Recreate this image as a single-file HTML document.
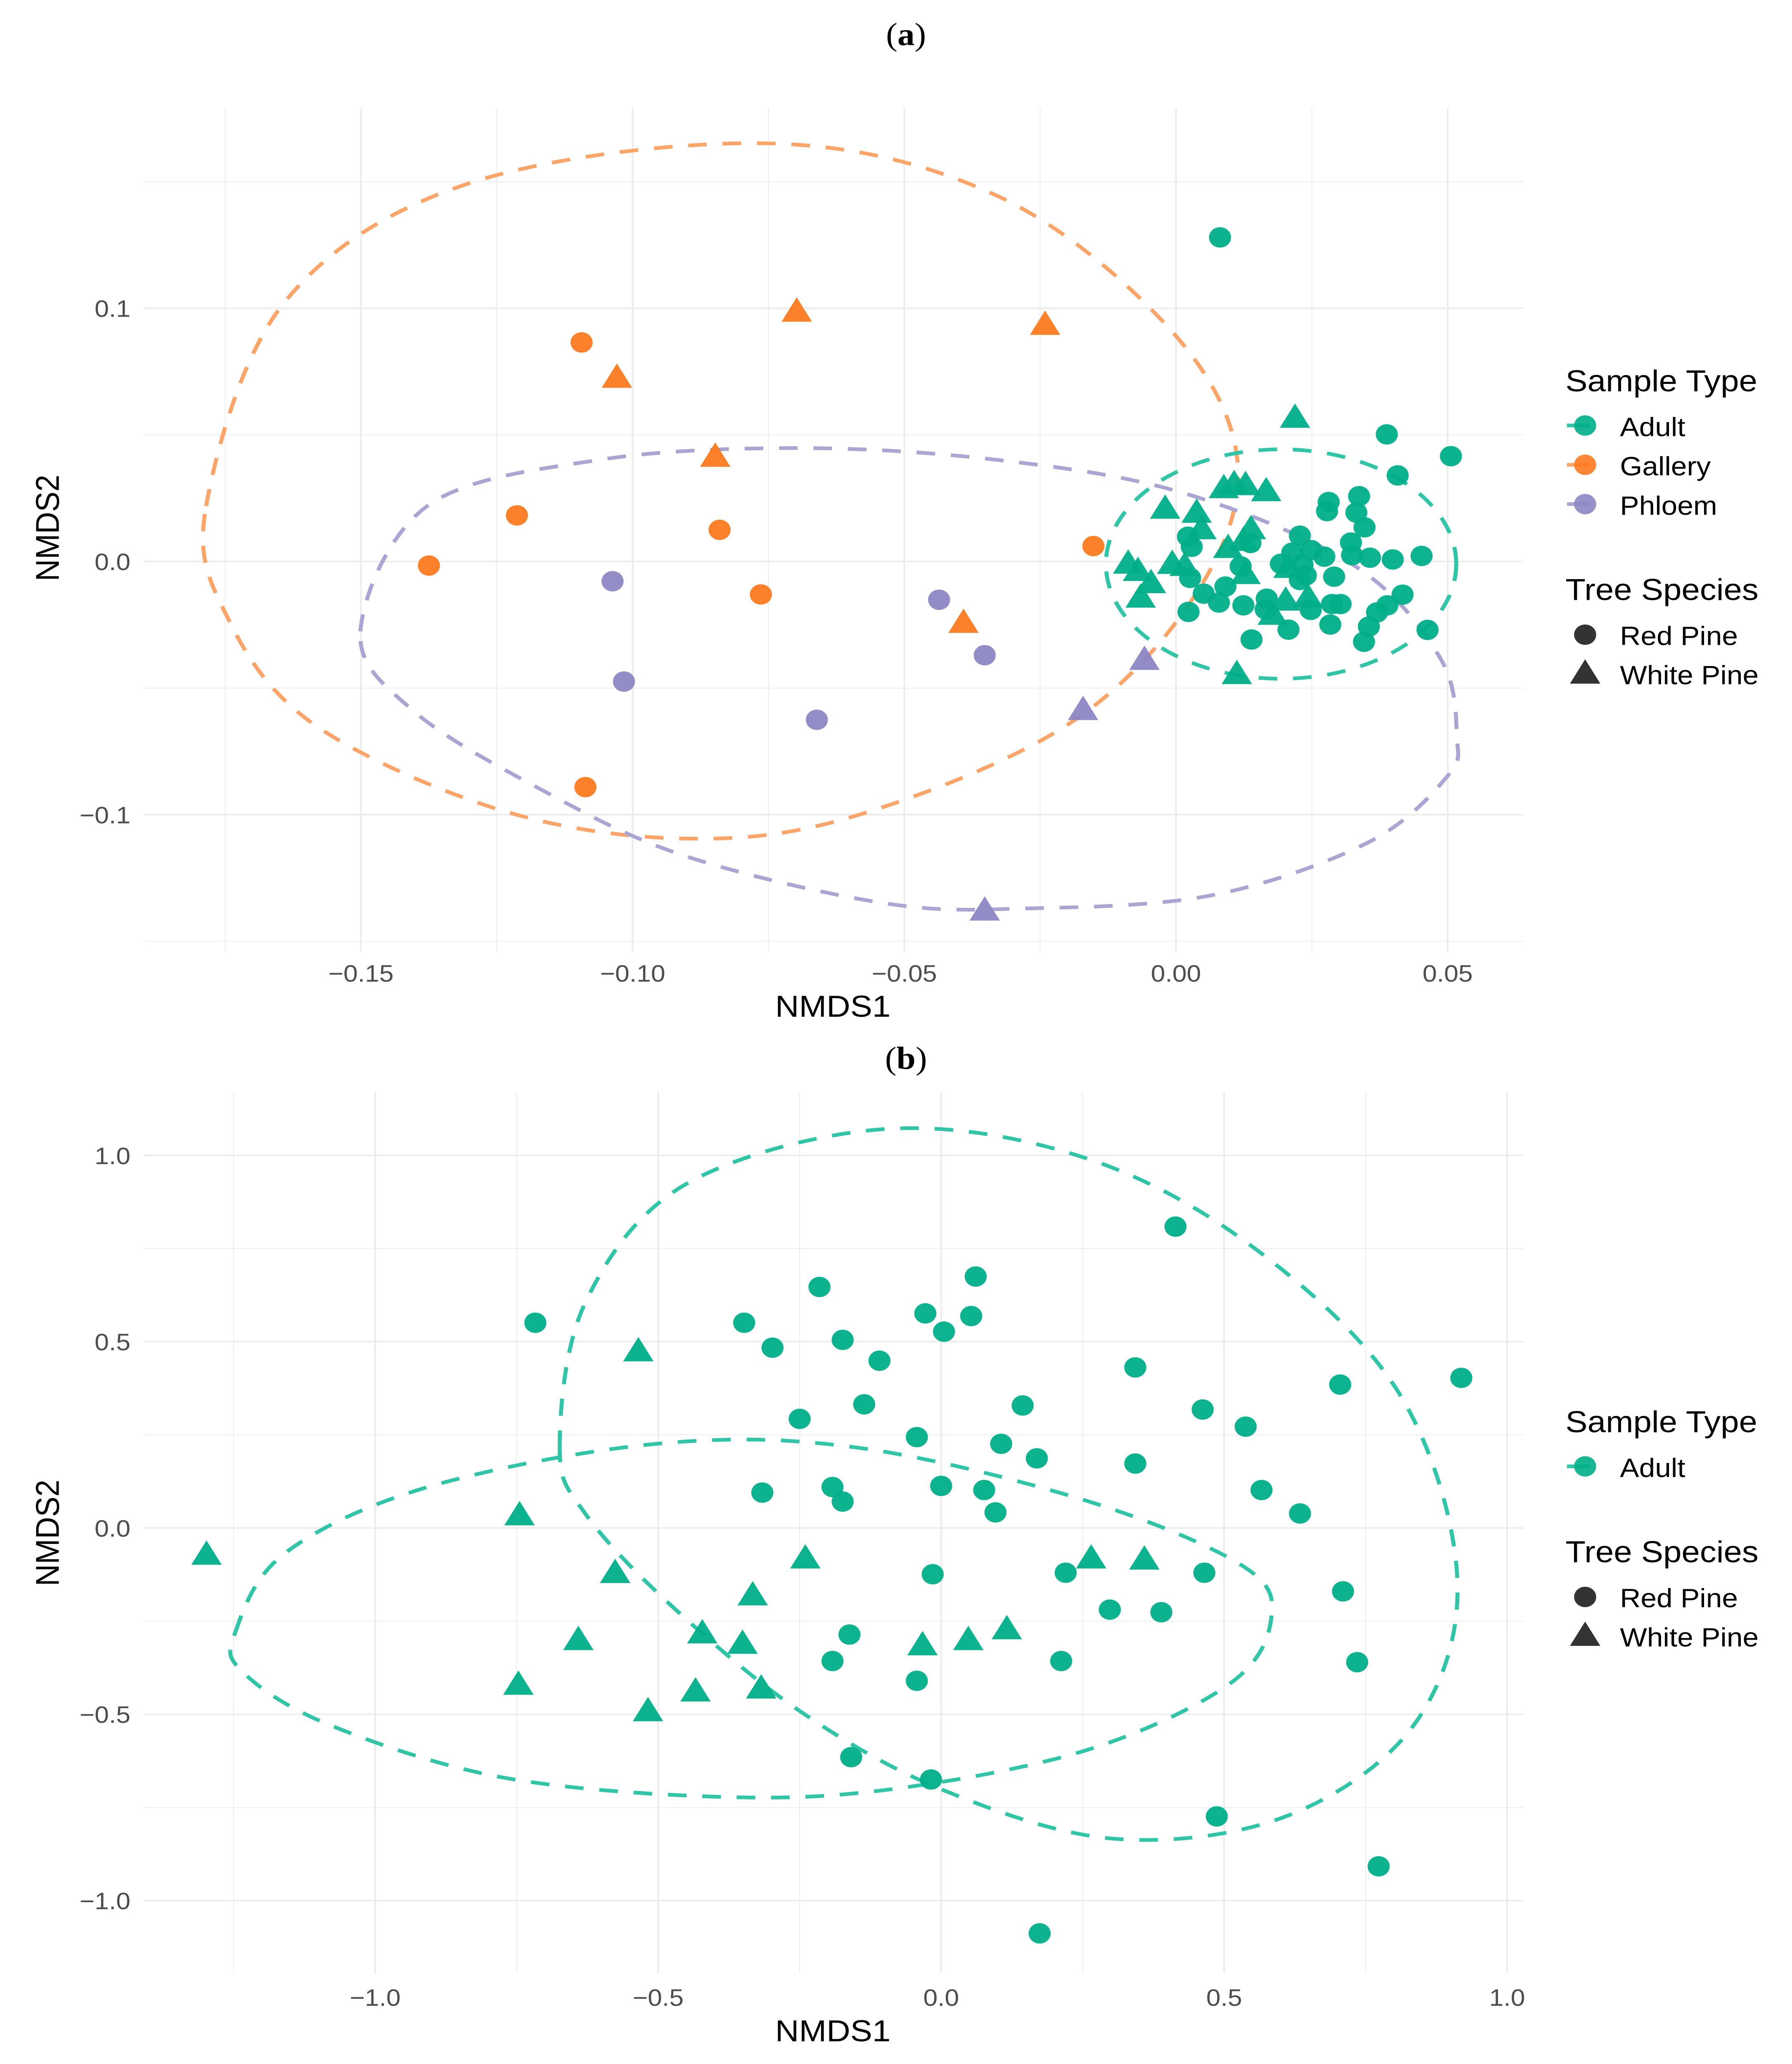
<!DOCTYPE html>
<html>
<head>
<meta charset="utf-8">
<style>
html,body{margin:0;padding:0;background:#fff;width:100%;height:100%;overflow:hidden;}
svg{display:block;position:absolute;left:0;top:0;width:100vw;height:100vh;}
text{font-family:"Liberation Sans",Arial,sans-serif;}
</style>
</head>
<body>
<svg id="fig" xmlns="http://www.w3.org/2000/svg" viewBox="0 0 1250 1560" preserveAspectRatio="none">
<rect width="1250" height="1560" fill="#fff"/>
<g id="panelA"></g>
<g id="panelB"></g>
<text x="632" y="34" text-anchor="middle" font-size="24" style="font-family:'Liberation Serif',serif">(<tspan font-weight="bold">a</tspan>)</text>
<text x="632" y="808" text-anchor="middle" font-size="24" style="font-family:'Liberation Serif',serif">(<tspan font-weight="bold">b</tspan>)</text>
</svg>
<script>
// ---------- Panel (a) data ----------
const aXTicks = [-0.15, -0.10, -0.05, 0.00, 0.05];
const aXTickLabels = ["\u22120.15", "\u22120.10", "\u22120.05", "0.00", "0.05"];
const aYTicks = [-0.1, 0.0, 0.1];
const aYTickLabels = ["\u22120.1", "0.0", "0.1"];
const aAdultCircles = [[0.0388,0.0502],[0.0506,0.0416],[0.0408,0.0340],[0.0281,0.0235],[0.0337,0.0258],[0.0278,0.0199],[0.0332,0.0193],[0.0347,0.0135],[0.0322,0.0075],[0.0324,0.0025],[0.0357,0.0015],[0.0399,0.0008],[0.0452,0.0022],[0.0228,0.0102],[0.0214,0.0035],[0.0249,0.0045],[0.0273,0.0019],[0.0193,-0.0009],[0.0233,-0.0013],[0.0239,-0.0055],[0.0228,-0.0073],[0.0291,-0.0060],[0.0022,0.0098],[0.0029,0.0058],[0.0137,0.0073],[0.0119,-0.0019],[0.0026,-0.0065],[0.0091,-0.0099],[0.0051,-0.0127],[0.0079,-0.0162],[0.0023,-0.0199],[0.0124,-0.0173],[0.0167,-0.0147],[0.0165,-0.0189],[0.0248,-0.0191],[0.0287,-0.0168],[0.0303,-0.0168],[0.0417,-0.0131],[0.0389,-0.0173],[0.0370,-0.0201],[0.0355,-0.0257],[0.0346,-0.0317],[0.0463,-0.0270],[0.0284,-0.0249],[0.0207,-0.0269],[0.0139,-0.0308],[0.0081,0.128]];
const aAdultTriangles = [[0.0219,0.0576],[0.0107,0.0314],[0.0088,0.0298],[0.0128,0.0310],[0.0166,0.0286],[-0.0020,0.0217],[0.0038,0.0201],[0.0047,0.0136],[0.0138,0.0136],[0.0124,0.0090],[0.0096,0.0062],[-0.0088,0.0000],[-0.0070,-0.0029],[-0.0007,-0.0001],[0.0016,-0.0009],[-0.0046,-0.0077],[-0.0065,-0.0134],[0.0128,-0.0041],[0.0207,-0.0017],[0.0202,-0.0146],[0.0243,-0.0134],[0.0178,-0.0202],[0.0112,-0.0436]];
const aGalleryCircles = [[-0.1094,0.0865],[-0.1213,0.0182],[-0.1375,-0.0016],[-0.0840,0.0125],[-0.0764,-0.0130],[-0.1087,-0.0891],[-0.0152,0.0061]];
const aGalleryTriangles = [[-0.1029,0.0734],[-0.0698,0.0995],[-0.0241,0.0943],[-0.0848,0.0422],[-0.0391,-0.0234]];
const aPhloemCircles = [[-0.1037,-0.0078],[-0.1016,-0.0474],[-0.0661,-0.0625],[-0.0436,-0.0151],[-0.0352,-0.0370]];
const aPhloemTriangles = [[-0.0171,-0.0578],[-0.0058,-0.0380],[-0.0352,-0.1370]];
const aGalleryEllipse = [[-0.1785,0.0219],[-0.1640,0.1026],[-0.1299,0.1495],[-0.0748,0.1651],[-0.0328,0.1443],[-0.0013,0.0922],[0.0113,0.0401],[0.0039,-0.0120],[-0.0197,-0.0641],[-0.0591,-0.1005],[-0.0906,-0.1094],[-0.1247,-0.0979],[-0.1588,-0.0641],[-0.1745,-0.0224]];
const aPhloemEllipse = [[-0.1501,-0.0276],[-0.1378,0.0219],[-0.1063,0.0401],[-0.0696,0.0448],[-0.0328,0.0401],[0.0013,0.0271],[0.0328,-0.0016],[0.0486,-0.0380],[0.0517,-0.0693],[0.0499,-0.0849],[0.0354,-0.1109],[0.0066,-0.1318],[-0.0276,-0.1370],[-0.0538,-0.1349],[-0.0906,-0.1161],[-0.1168,-0.0901],[-0.1404,-0.0589]];
const aAdultEllipseCenter = [0.01934, -0.0010];
const aAdultEllipseRadii = [0.03224, 0.0453];

// ---------- Panel (b) data ----------
const bXTicks = [-1.0, -0.5, 0.0, 0.5, 1.0];
const bXTickLabels = ["\u22121.0", "\u22120.5", "0.0", "0.5", "1.0"];
const bYTicks = [-1.0, -0.5, 0.0, 0.5, 1.0];
const bYTickLabels = ["\u22121.0", "\u22120.5", "0.0", "0.5", "1.0"];
const bAdultCircles = [[-0.717,0.551],[-0.215,0.647],[0.061,0.675],[-0.028,0.576],[0.053,0.569],[0.005,0.527],[-0.348,0.551],[-0.298,0.484],[-0.174,0.505],[-0.109,0.449],[0.414,0.809],[0.343,0.431],[0.705,0.385],[0.919,0.403],[0.144,0.329],[0.462,0.318],[0.538,0.272],[-0.136,0.332],[-0.250,0.293],[-0.043,0.244],[0.106,0.226],[0.169,0.187],[0.343,0.173],[-0.192,0.110],[-0.174,0.071],[-0.316,0.095],[0.000,0.113],[0.076,0.102],[0.096,0.042],[0.566,0.102],[0.634,0.039],[-0.015,-0.124],[0.220,-0.120],[0.465,-0.120],[0.298,-0.219],[0.389,-0.226],[0.710,-0.170],[-0.162,-0.286],[-0.192,-0.357],[0.212,-0.357],[0.735,-0.360],[-0.043,-0.410],[-0.159,-0.615],[-0.018,-0.675],[0.487,-0.774],[0.773,-0.908],[0.174,-1.088]];
const bAdultTriangles = [[-1.298,-0.066],[-0.745,0.040],[-0.535,0.480],[-0.576,-0.115],[-0.641,-0.295],[-0.747,-0.415],[-0.518,-0.486],[-0.434,-0.433],[-0.422,-0.277],[-0.351,-0.305],[-0.333,-0.175],[-0.318,-0.425],[-0.240,-0.076],[-0.033,-0.309],[0.048,-0.295],[0.116,-0.266],[0.265,-0.076],[0.359,-0.079]];
const bRedPineEllipse = [[-0.674,0.216],[-0.629,0.604],[-0.452,0.922],[-0.098,1.071],[0.255,0.993],[0.558,0.746],[0.811,0.357],[0.912,-0.138],[0.836,-0.527],[0.609,-0.774],[0.306,-0.834],[0.003,-0.703],[-0.250,-0.491],[-0.477,-0.208],[-0.629,0.039]];
const bWhitePineEllipse = [[-1.247,-0.279],[-1.159,-0.067],[-0.907,0.110],[-0.503,0.226],[-0.149,0.216],[0.255,0.074],[0.533,-0.102],[0.583,-0.244],[0.508,-0.420],[0.255,-0.597],[-0.098,-0.703],[-0.402,-0.721],[-0.780,-0.668],[-1.083,-0.527],[-1.235,-0.385]];

const NS = "http://www.w3.org/2000/svg";
const COL = {adult:"#00ae88", gallery:"#fd7a1f", phloem:"#8c86c4"};
const ECOL = {adult:"#2fc5a6", gallery:"#fda468", phloem:"#aaa5d3"};

function mk(tag, parent, attrs){
  const e = document.createElementNS(NS, tag);
  for (const k in attrs) e.setAttribute(k, attrs[k]);
  parent.appendChild(e);
  return e;
}

function makeAxes(x0, sx, y0, sy){
  return { X: v => x0 + v*sx, Y: v => y0 - v*sy };
}

function closedCurve(pts){
  const n = pts.length;
  let d = "M" + pts[0][0].toFixed(2) + "," + pts[0][1].toFixed(2);
  for (let i=0;i<n;i++){
    const p0=pts[(i-1+n)%n], p1=pts[i], p2=pts[(i+1)%n], p3=pts[(i+2)%n];
    const c1x=p1[0]+(p2[0]-p0[0])/6, c1y=p1[1]+(p2[1]-p0[1])/6;
    const c2x=p2[0]-(p3[0]-p1[0])/6, c2y=p2[1]-(p3[1]-p1[1])/6;
    d += " C"+c1x.toFixed(2)+","+c1y.toFixed(2)+" "+c2x.toFixed(2)+","+c2y.toFixed(2)+" "+p2[0].toFixed(2)+","+p2[1].toFixed(2);
  }
  return d + "Z";
}

function drawPanel(g, ax, cfg){
  const grid = mk("g", g, {});
  
  
  cfg.vlines.forEach(v=>{
    const major = cfg.xTicks.some(t=>Math.abs(t-v)<1e-9);
    const l = mk("line", grid, {x1:ax.X(v), x2:ax.X(v), y1:cfg.top, y2:cfg.bottom, stroke:"#ebebeb", "stroke-width": major?1.1:0.55});
    
    
  });
  cfg.hlines.forEach(v=>{
    const major = cfg.yTicks.some(t=>Math.abs(t-v)<1e-9);
    const l = mk("line", grid, {x1:cfg.left, x2:cfg.right, y1:ax.Y(v), y2:ax.Y(v), stroke:"#ebebeb", "stroke-width": major?1.1:0.55});
    
    
  });
  cfg.xTicks.forEach((v,i)=>{
    const t = mk("text", g, {x:ax.X(v), y:cfg.xTickY, "text-anchor":"middle", "font-size":18, fill:"#4d4d4d"});
    t.textContent = cfg.xTickLabels[i];
    
    
  });
  cfg.yTicks.forEach((v,i)=>{
    const t = mk("text", g, {x:91, y:ax.Y(v)+6.5, "text-anchor":"end", "font-size":18, fill:"#4d4d4d"});
    t.textContent = cfg.yTickLabels[i];
    
    
  });
  const xt = mk("text", g, {x:581, y:cfg.xTitleY, "text-anchor":"middle", "font-size":23, fill:"#000"});
  xt.textContent = "NMDS1";
  
  
  const yt = mk("text", g, {x:0, y:0, "text-anchor":"middle", "font-size":23, fill:"#000", transform:"translate(41,"+cfg.yTitleY+") rotate(-90)"});
  yt.textContent = "NMDS2";
  
  
}

function drawEllipsePts(g, ax, pts, color, name){
  const p = mk("path", g, {d: closedCurve(pts.map(q=>[ax.X(q[0]), ax.Y(q[1])])), fill:"none", stroke:color, "stroke-width":2.8, "stroke-dasharray":"13 11"});
  
  
}

function drawCircles(g, ax, pts, color, name){
  pts.forEach(q=>{
    const c = mk("circle", g, {cx:ax.X(q[0]), cy:ax.Y(q[1]), r:7.7, fill:color, "fill-opacity":0.95});
    
    
  });
}
function triPath(x,y){
  return "M"+x+","+(y-9.2)+" L"+(x+10.6)+","+(y+9.2)+" L"+(x-10.6)+","+(y+9.2)+"Z";
}
function drawTriangles(g, ax, pts, color, name){
  pts.forEach(q=>{
    const t = mk("path", g, {d:triPath(ax.X(q[0]), ax.Y(q[1])), fill:color, "fill-opacity":0.95});
    
    
  });
}

function legendText(g, x, y, s, size, name){
  const t = mk("text", g, {x:x, y:y, "font-size":size, fill:"#000"});
  t.textContent = s;
  
  
}
function drawLegend(g, baseY, entries){
  const lg = mk("g", g, {});
  
  
  legendText(lg, 1092, baseY, "Sample Type", 23, "legend-title-sample-type");
  let y = baseY + 25.8;
  entries.forEach(e=>{
    const l = mk("line", lg, {x1:1093, x2:1109, y1:y, y2:y, stroke:ECOL[e.key], "stroke-width":2.8});
    
    
    const c = mk("circle", lg, {cx:1105.7, cy:y, r:7.7, fill:COL[e.key], "fill-opacity":0.9});
    
    
    legendText(lg, 1130, y+8, e.label, 20, "legend-entry-" + e.key);
    y += 29.7;
  });
  const ts = y - 29.7 + 72.5;
  legendText(lg, 1092, ts, "Tree Species", 23, "legend-title-tree-species");
  const c = mk("circle", lg, {cx:1105.7, cy:ts+26.2, r:7.7, fill:"#333"});
  
  
  legendText(lg, 1130, ts+34, "Red Pine", 20, "legend-entry-red-pine");
  const t = mk("path", lg, {d:triPath(1105.7, ts+54), fill:"#333"});
  
  
  legendText(lg, 1130, ts+63.6, "White Pine", 20, "legend-entry-white-pine");
}

function range(a,b,s){ const r=[]; for(let v=a; v<=b+1e-9; v+=s) r.push(Math.round(v*1000)/1000); return r; }

// ----- Panel A -----
const gA = document.getElementById("panelA");
const axA = makeAxes(820.3, 3790, 424.4, 1914);
drawPanel(gA, axA, {
  vlines: range(-0.175, 0.05, 0.025), hlines: range(-0.15, 0.15, 0.05),
  xTicks: aXTicks, xTickLabels: aXTickLabels, yTicks: aYTicks, yTickLabels: aYTickLabels,
  left:100.3, right:1062.6, top:81.8, bottom:719, xTickY:742, xTitleY:768.5, yTitleY:399
});
drawEllipsePts(gA, axA, aGalleryEllipse, ECOL.gallery, "ellipse-gallery");
drawEllipsePts(gA, axA, aPhloemEllipse, ECOL.phloem, "ellipse-phloem");
(function(){
  const pts = [];
  for (let i=0;i<24;i++){ const a=i/24*2*Math.PI; pts.push([aAdultEllipseCenter[0]+aAdultEllipseRadii[0]*Math.cos(a), aAdultEllipseCenter[1]+aAdultEllipseRadii[1]*Math.sin(a)]); }
  drawEllipsePts(gA, axA, pts, ECOL.adult, "ellipse-adult");
})();
drawCircles(gA, axA, aGalleryCircles, COL.gallery, "point-gallery-red-pine");
drawTriangles(gA, axA, aGalleryTriangles, COL.gallery, "point-gallery-white-pine");
drawCircles(gA, axA, aPhloemCircles, COL.phloem, "point-phloem-red-pine");
drawTriangles(gA, axA, aPhloemTriangles, COL.phloem, "point-phloem-white-pine");
drawCircles(gA, axA, aAdultCircles, COL.adult, "point-adult-red-pine");
drawTriangles(gA, axA, aAdultTriangles, COL.adult, "point-adult-white-pine");
drawLegend(gA, 295.8, [{key:"adult",label:"Adult"},{key:"gallery",label:"Gallery"},{key:"phloem",label:"Phloem"}]);

// ----- Panel B -----
const gB = document.getElementById("panelB");
const axB = makeAxes(656.5, 394.8, 1154.9, 281.6);
drawPanel(gB, axB, {
  vlines: range(-1.25, 1.0, 0.25), hlines: range(-1.0, 1.0, 0.25),
  xTicks: bXTicks, xTickLabels: bXTickLabels, yTicks: bYTicks, yTickLabels: bYTickLabels,
  left:100.3, right:1062.6, top:825.5, bottom:1491.5, xTickY:1516, xTitleY:1542.8, yTitleY:1158.6
});
drawEllipsePts(gB, axB, bRedPineEllipse, ECOL.adult, "ellipse-red-pine");
drawEllipsePts(gB, axB, bWhitePineEllipse, ECOL.adult, "ellipse-white-pine");
drawCircles(gB, axB, bAdultCircles, COL.adult, "point-adult-red-pine");
drawTriangles(gB, axB, bAdultTriangles, COL.adult, "point-adult-white-pine");
drawLegend(gB, 1082.5, [{key:"adult",label:"Adult"}]);
</script>
</body>
</html>
